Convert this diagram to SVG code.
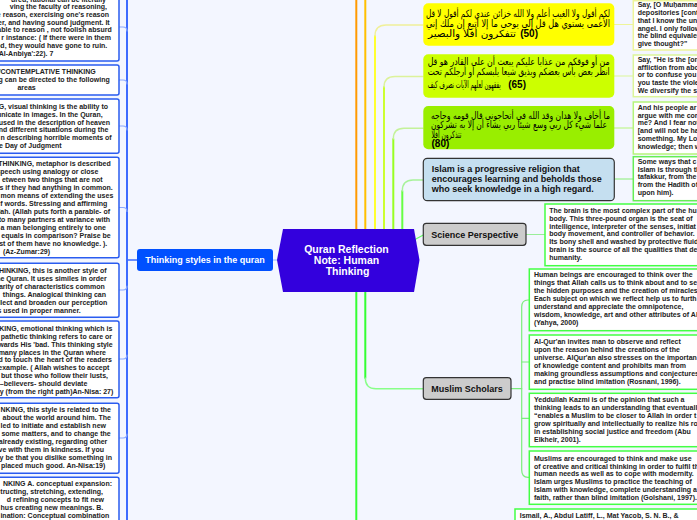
<svg xmlns="http://www.w3.org/2000/svg" width="697" height="520" viewBox="0 0 697 520">
<style>
.lbox{fill:#fff;stroke:#2a5cf0;stroke-width:1.5}
.lt{font-family:"Liberation Sans",Arial,sans-serif;font-size:7px;font-weight:bold;fill:#222;text-anchor:end}
.rt{font-family:"Liberation Sans",Arial,sans-serif;font-size:7px;font-weight:bold;fill:#222}
.nt{font-family:"Liberation Sans",Arial,sans-serif;font-size:9px;font-weight:bold;fill:#111}
.ar{font-family:"DejaVu Sans",sans-serif;font-size:10px;fill:#000}
.num{font-family:"Liberation Sans",Arial,sans-serif;font-size:10px;font-weight:bold;fill:#000}
.gray{fill:#cccccc;stroke:#333;stroke-width:1.2}
.c{fill:none;stroke-linecap:round}
</style>
<rect width="697" height="520" fill="#f3f6ff"/>

<g id="connectors" class="c">
  <path d="M127,-5 V525" stroke="#3d6bff" stroke-width="2"/>
  <path d="M119,27 H123 Q127,27 127,31" stroke="#8aa8ff" stroke-width="1.2"/>
  <path d="M119,80 H123 Q127,80 127,84" stroke="#8aa8ff" stroke-width="1.2"/>
  <path d="M119,126 H123 Q127,126 127,130" stroke="#8aa8ff" stroke-width="1.2"/>
  <path d="M119,207.5 H123 Q127,207.5 127,211.5" stroke="#8aa8ff" stroke-width="1.2"/>
  <path d="M119,290 H123 Q127,290 127,286" stroke="#8aa8ff" stroke-width="1.2"/>
  <path d="M119,359 H123 Q127,359 127,355" stroke="#8aa8ff" stroke-width="1.2"/>
  <path d="M119,438 H123 Q127,438 127,434" stroke="#8aa8ff" stroke-width="1.2"/>
  <path d="M127,260 H137" stroke="#3d6bff" stroke-width="1.5"/>
  <path d="M273,260 H278" stroke="#8fb0ff" stroke-width="1.2"/>

  <path d="M356.3,-5 V230" stroke="#ff9a00" stroke-width="2"/>
  <path d="M365.3,-5 V230" stroke="#ffc000" stroke-width="2"/>
  <path d="M375,230 V36" stroke="#ffff30" stroke-width="2"/>
  <path d="M375,36 Q375,25 386,25 H423" stroke="#f0f09a" stroke-width="1.4"/>
  <path d="M384,230 V87" stroke="#ccff30" stroke-width="2"/>
  <path d="M384,87 Q384,76.5 395,76.5 H423" stroke="#dcf29a" stroke-width="1.4"/>
  <path d="M393.3,230 V139" stroke="#99ff22" stroke-width="2"/>
  <path d="M393.3,139 Q393.3,128.3 404,128.3 H423" stroke="#c4f29a" stroke-width="1.4"/>
  <path d="M402.3,230 V191" stroke="#66ff44" stroke-width="2"/>
  <path d="M402.3,191 Q402.3,180 413,180 H423" stroke="#a8f29a" stroke-width="1.4"/>

  <path d="M356.3,291 V525" stroke="#33ff33" stroke-width="2"/>
  <path d="M365.3,291 V378" stroke="#33ff33" stroke-width="2"/>
  <path d="M365.3,378 Q365.3,388.7 376,388.7 H423" stroke="#88ff88" stroke-width="1.4"/>
  <path d="M415,239.5 L423.3,235" stroke="#66ff66" stroke-width="1.2"/>

  <path d="M614.3,24.5 H633.3" stroke="#eef59a" stroke-width="1.2"/>
  <path d="M614.3,76 H633.3" stroke="#dcf59a" stroke-width="1.2"/>
  <path d="M614.3,128 H633.3" stroke="#b5f57a" stroke-width="1.2"/>
  <path d="M614.3,179 H633.3" stroke="#88ee77" stroke-width="1.2"/>
  <path d="M526,234.5 H545" stroke="#99ee99" stroke-width="1.2"/>
  <path d="M511,388.7 H521.7" stroke="#7ced7c" stroke-width="1.2"/>
  <path d="M529.3,300 H528 Q521.7,300 521.7,307 V470 Q521.7,477.3 528,477.3 H529.3" stroke="#7ced7c" stroke-width="1.2"/>
  <path d="M521.7,362 H529.3" stroke="#7ced7c" stroke-width="1.2"/>
  <path d="M521.7,418.3 H529.3" stroke="#7ced7c" stroke-width="1.2"/>
</g>

<g id="center">
  <polygon points="277,260 283,229 414,229 419.5,260 414,292 283,292" fill="#3300dd"/>
  <g font-family="Liberation Sans, Arial, sans-serif" font-size="10.5" font-weight="bold" fill="#fff" text-anchor="middle">
    <text x="346.5" y="253.3">Quran Reflection</text>
    <text x="346.5" y="264.3">Note: Human</text>
    <text x="347.5" y="275">Thinking</text>
  </g>
</g>

<g id="thinking-styles">
  <rect x="137" y="249" width="136" height="22" rx="3" fill="#0050ff"/>
  <text x="205" y="263.3" font-family="Liberation Sans, Arial, sans-serif" font-size="9" font-weight="bold" fill="#fff" text-anchor="middle">Thinking styles in the quran</text>
</g>

<g id="style-1">
  <rect class="lbox" x="-100" y="-10" width="219" height="71" rx="2"/>
  <text class="lt" x="106" y="1.5">ured, rational can be literally</text>
  <text class="lt" x="107" y="8.7">ving the faculty of reasoning,</text>
  <text class="lt" x="109" y="16.7">e reason, exercising one's reason</text>
  <text class="lt" x="109.7" y="24.7">er, and having sound judgment. It</text>
  <text class="lt" x="111.7" y="32.3">able to reason , not foolish absurd</text>
  <text class="lt" x="111" y="40.3">r instance: ( If there were in them</text>
  <text class="lt" x="107.3" y="48">od, they would have gone to ruin.</text>
  <text class="lt" x="53.3" y="56">'Al-Anbiya':22). 7</text>
</g>
<g id="style-2">
  <rect class="lbox" x="-100" y="65" width="219" height="30" rx="2"/>
  <text class="lt" x="95.7" y="74">/CONTEMPLATIVE THINKING</text>
  <text class="lt" x="109.7" y="82">g can be directed to the following</text>
  <text class="lt" x="35.7" y="90.3">areas</text>
</g>
<g id="style-3">
  <rect class="lbox" x="-100" y="99" width="219" height="54.3" rx="2"/>
  <text class="lt" x="108" y="109">G, visual thinking is the ability to</text>
  <text class="lt" x="102.7" y="116.7">unicate in images. In the Quran,</text>
  <text class="lt" x="110" y="124.5">used in the description of heaven</text>
  <text class="lt" x="108.3" y="132.3">nd different situations during the</text>
  <text class="lt" x="111.7" y="140.3">n describing horrible moments of</text>
  <text class="lt" x="61.7" y="148.3">e Day of Judgment</text>
</g>
<g id="style-4">
  <rect class="lbox" x="-100" y="157.3" width="219" height="100.4" rx="2"/>
  <text class="lt" x="110.7" y="166">THINKING, metaphor is described</text>
  <text class="lt" x="98.3" y="174">speech using analogy or close</text>
  <text class="lt" x="102.7" y="182">etween two things that are not</text>
  <text class="lt" x="112.7" y="190">s if they had anything in common.</text>
  <text class="lt" x="113.3" y="198">mon means of extending the uses</text>
  <text class="lt" x="107.3" y="206">f words. Stressing and affirming</text>
  <text class="lt" x="110" y="214">llah. (Allah puts forth a parable- of</text>
  <text class="lt" x="110" y="222">to many partners at variance with</text>
  <text class="lt" x="106" y="230">a man belonging entirely to one</text>
  <text class="lt" x="110.7" y="238">equals in comparison? Praise be</text>
  <text class="lt" x="107.3" y="246">st of them have no knowledge. ).</text>
  <text class="lt" x="50" y="254">(Az-Zumar:29)</text>
</g>
<g id="style-5">
  <rect class="lbox" x="-100" y="263.3" width="219" height="54" rx="2"/>
  <text class="lt" x="106.7" y="272.7">THINKING, this is another style of</text>
  <text class="lt" x="106.7" y="280.7">he Quran. It uses similes in order</text>
  <text class="lt" x="104.7" y="288.7">arity of characteristics common</text>
  <text class="lt" x="106" y="296.7">things. Analogical thinking can</text>
  <text class="lt" x="107.3" y="304.7">llect and broaden our perception</text>
  <text class="lt" x="80.7" y="312.7">s used in proper manner.</text>
</g>
<g id="style-6">
  <rect class="lbox" x="-100" y="321" width="219" height="76.7" rx="2"/>
  <text class="lt" x="112.3" y="330.7">KING, emotional thinking which is</text>
  <text class="lt" x="112" y="338.7">pathetic thinking refers to care or</text>
  <text class="lt" x="112.7" y="346.7">wards His 'bad. This thinking style</text>
  <text class="lt" x="106" y="354.7">many places in the Quran where</text>
  <text class="lt" x="112" y="362.3">d to touch the heart of the readers</text>
  <text class="lt" x="109.3" y="370.3">example. ( Allah wishes to accept</text>
  <text class="lt" x="108" y="378.3">but those who follow their lusts,</text>
  <text class="lt" x="87.3" y="386.3">u –believers- should deviate</text>
  <text class="lt" x="113.3" y="394.3">y (from the right path)An-Nisa: 27)</text>
</g>
<g id="style-7">
  <rect class="lbox" x="-100" y="403.3" width="219" height="70" rx="2"/>
  <text class="lt" x="111" y="412.3">NKING, this style is related to the</text>
  <text class="lt" x="111" y="420.3">about the world around him. The</text>
  <text class="lt" x="106" y="428.3">led to initiate and establish new</text>
  <text class="lt" x="110.7" y="436.3">some matters, and to change the</text>
  <text class="lt" x="107.3" y="444.3">already existing, regarding other</text>
  <text class="lt" x="104" y="452.3">ve with them in kindness. If you</text>
  <text class="lt" x="112" y="460.3">y be that you dislike something in</text>
  <text class="lt" x="105.3" y="468.3">placed much good. An-Nisa:19)</text>
</g>
<g id="style-8">
  <rect class="lbox" x="-100" y="477.3" width="219" height="60" rx="2"/>
  <text class="lt" x="112" y="486.3">NKING  A. conceptual expansion:</text>
  <text class="lt" x="103" y="494.3">tructing, stretching, extending,</text>
  <text class="lt" x="104" y="502.3">d refining concepts to fit new</text>
  <text class="lt" x="103.3" y="510.3">hus creating new meanings. B.</text>
  <text class="lt" x="109.3" y="518.3">ination: Conceptual combination</text>
</g>

<g id="verse-50">
  <rect x="423.3" y="3.3" width="191" height="42.4" rx="5" fill="#ffff00"/>
  <text class="ar" x="426" y="17.3" textLength="184" lengthAdjust="spacingAndGlyphs">قل&#x200E; لا&#x200E; أقول&#x200E; لكم&#x200E; عندي&#x200E; خزائن&#x200E; الله&#x200E; ولا&#x200E; أعلم&#x200E; الغيب&#x200E; ولا&#x200E; أقول&#x200E; لكم&#x200E;</text>
  <text class="ar" x="426" y="27.3" textLength="184" lengthAdjust="spacingAndGlyphs">إني&#x200E; ملك&#x200E; إن&#x200E; أتبع&#x200E; إلا&#x200E; ما&#x200E; يوحى&#x200E; إلي&#x200E; قل&#x200E; هل&#x200E; يستوي&#x200E; الأعمى&#x200E;</text>
  <text class="ar" x="428" y="37" textLength="88" lengthAdjust="spacingAndGlyphs">والبصير&#x200E; أفلا&#x200E; تتفكرون&#x200E;</text>
  <text class="num" x="538" y="37" text-anchor="end">(50)</text>
</g>
<g id="verse-65">
  <rect x="423.3" y="54.3" width="191" height="43.4" rx="5" fill="#ccff00"/>
  <text class="ar" x="427.7" y="65" textLength="182" lengthAdjust="spacingAndGlyphs">قل&#x200E; هو&#x200E; القادر&#x200E; على&#x200E; أن&#x200E; يبعث&#x200E; عليكم&#x200E; عذابا&#x200E; من&#x200E; فوقكم&#x200E; أو&#x200E; من&#x200E;</text>
  <text class="ar" x="427.7" y="75" textLength="182" lengthAdjust="spacingAndGlyphs">تحت&#x200E; أرجلكم&#x200E; أو&#x200E; يلبسكم&#x200E; شيعا&#x200E; ويذيق&#x200E; بعضكم&#x200E; بأس&#x200E; بعض&#x200E; انظر&#x200E;</text>
  <text class="ar" x="427.7" y="88" textLength="73" lengthAdjust="spacingAndGlyphs">كيف&#x200E; نصرف&#x200E; الآيات&#x200E; لعلهم&#x200E; يفقهون&#x200E;</text>
  <text class="num" x="526" y="88" text-anchor="end">(65)</text>
</g>
<g id="verse-80">
  <rect x="423.3" y="106" width="191" height="43.3" rx="5" fill="#99ee00"/>
  <text class="ar" x="431" y="118.5" textLength="179" lengthAdjust="spacingAndGlyphs">وحاجه&#x200E; قومه&#x200E; قال&#x200E; أتحاجوني&#x200E; في&#x200E; الله&#x200E; وقد&#x200E; هدان&#x200E; ولا&#x200E; أخاف&#x200E; ما&#x200E;</text>
  <text class="ar" x="431" y="128" textLength="176" lengthAdjust="spacingAndGlyphs">تشركون&#x200E; به&#x200E; إلا&#x200E; أن&#x200E; يشاء&#x200E; ربي&#x200E; شيئا&#x200E; وسع&#x200E; ربي&#x200E; كل&#x200E; شيء&#x200E; علما&#x200E;</text>
  <text class="ar" x="431.5" y="137.5" font-size="9" textLength="30" lengthAdjust="spacingAndGlyphs">أفلا&#x200E; تتذكرون&#x200E;</text>
  <text class="num" x="431.5" y="146.5" font-size="9">(80)</text>
</g>
<g id="islam-progressive">
  <rect x="423.3" y="158.3" width="191" height="42.4" rx="4" fill="#c5dff0" stroke="#333" stroke-width="1.2"/>
  <text class="nt" x="431.7" y="171.7">Islam is a progressive religion that</text>
  <text class="nt" x="431.7" y="181.7">encourages learning and beholds those</text>
  <text class="nt" x="431.7" y="191.7">who seek knowledge in a high regard.</text>
</g>
<g id="science-perspective">
  <rect class="gray" x="423.3" y="223.3" width="102.7" height="22" rx="3"/>
  <text class="nt" x="474.7" y="237.6" text-anchor="middle">Science Perspective</text>
</g>
<g id="muslim-scholars">
  <rect class="gray" x="423.3" y="377.7" width="87.7" height="21.6" rx="3"/>
  <text class="nt" x="467" y="391.7" text-anchor="middle">Muslim Scholars</text>
</g>

<g id="note-50">
  <rect x="633.3" y="0.7" width="80" height="49.3" fill="#fff" stroke="#eef59a" stroke-width="1.5"/>
  <text class="rt" x="637.7" y="7.3">Say, [O Muḥamma</text>
  <text class="rt" x="637.7" y="15">depositories [cont</text>
  <text class="rt" x="637.7" y="22.7">that I know the un</text>
  <text class="rt" x="637.7" y="30.7">angel. I only follow</text>
  <text class="rt" x="637.7" y="38.3">the blind equivalen</text>
  <text class="rt" x="637.7" y="46.3">give thought?"</text>
</g>
<g id="note-65">
  <rect x="633.3" y="55" width="80" height="41.7" fill="#fff" stroke="#dcf59a" stroke-width="1.5"/>
  <text class="rt" x="637.7" y="61.8">Say, "He is the [one</text>
  <text class="rt" x="637.7" y="69.5">affliction from abo</text>
  <text class="rt" x="637.7" y="77.2">or to confuse you</text>
  <text class="rt" x="637.7" y="84.8">you taste the viole</text>
  <text class="rt" x="637.7" y="92.5">We diversify the s</text>
</g>
<g id="note-80">
  <rect x="633.3" y="102" width="80" height="52" fill="#fff" stroke="#b5f57a" stroke-width="1.5"/>
  <text class="rt" x="637.7" y="110">And his people ar</text>
  <text class="rt" x="637.7" y="117.6">argue with me cor</text>
  <text class="rt" x="637.7" y="125.4">me? And I fear not</text>
  <text class="rt" x="637.7" y="133.3">[and will not be ha</text>
  <text class="rt" x="637.7" y="141">something. My Lo</text>
  <text class="rt" x="637.7" y="149">knowledge; then w</text>
</g>
<g id="note-islam">
  <rect x="633.3" y="156.7" width="80" height="44" fill="#fff" stroke="#66ee55" stroke-width="1.5"/>
  <text class="rt" x="637.7" y="164">Some ways that c</text>
  <text class="rt" x="637.7" y="171.7">Islam is through th</text>
  <text class="rt" x="637.7" y="179.4">tafakkur, from the</text>
  <text class="rt" x="637.7" y="187.3">from the Hadith of</text>
  <text class="rt" x="637.7" y="195">upon him).</text>
</g>
<g id="note-brain">
  <rect x="545" y="204" width="200" height="61.7" fill="#fff" stroke="#44ff44" stroke-width="1.5"/>
  <text class="rt" x="549.3" y="212.7">The brain is the most complex part of the hu</text>
  <text class="rt" x="549.3" y="220.7">body. This three-pound organ is the seat of</text>
  <text class="rt" x="549.3" y="228.7">intelligence, interpreter of the senses, initiat</text>
  <text class="rt" x="549.3" y="236.3">body movement, and controller of behavior.</text>
  <text class="rt" x="549.3" y="244.3">Its bony shell and washed by protective fluid</text>
  <text class="rt" x="549.3" y="252.3">brain is the source of all the qualities that de</text>
  <text class="rt" x="549.3" y="260">humanity.</text>
</g>
<g id="scholar-yahya">
  <rect x="529.3" y="269" width="200" height="61.7" fill="#fff" stroke="#44ff44" stroke-width="1.5"/>
  <text class="rt" x="534" y="277.3">Human beings are encouraged to think over the</text>
  <text class="rt" x="534" y="285.3">things that Allah calls us to think about and to se</text>
  <text class="rt" x="534" y="293.3">the hidden purposes and the creation of miracles</text>
  <text class="rt" x="534" y="301.3">Each subject on which we reflect help us to furth</text>
  <text class="rt" x="534" y="309.3">understand and appreciate the omnipotence,</text>
  <text class="rt" x="534" y="317">wisdom, knowledge, art and other attributes of Al</text>
  <text class="rt" x="534" y="325">(Yahya, 2000)</text>
</g>
<g id="scholar-rosnani">
  <rect x="529.3" y="335" width="200" height="54.3" fill="#fff" stroke="#44ff44" stroke-width="1.5"/>
  <text class="rt" x="534" y="344">Al-Qur'an invites man to observe and reflect</text>
  <text class="rt" x="534" y="352">upon the reason behind the creations of the</text>
  <text class="rt" x="534" y="360">universe. AlQur'an also stresses on the importan</text>
  <text class="rt" x="534" y="368">of knowledge content and prohibits man from</text>
  <text class="rt" x="534" y="375.7">making groundless assumptions and conjectures</text>
  <text class="rt" x="534" y="383.7">and practise blind imitation (Rosnani, 1996).</text>
</g>
<g id="scholar-kazmi">
  <rect x="529.3" y="393.3" width="200" height="53.4" fill="#fff" stroke="#44ff44" stroke-width="1.5"/>
  <text class="rt" x="534" y="401.7">Yeddullah Kazmi is of the opinion that such a</text>
  <text class="rt" x="534" y="410">thinking leads to an understanding that eventuall</text>
  <text class="rt" x="534" y="418">“enables a Muslim to be closer to Allah in order t</text>
  <text class="rt" x="534" y="426">grow spiritually and intellectually to realize his ro</text>
  <text class="rt" x="534" y="434">in establishing social justice and freedom (Abu</text>
  <text class="rt" x="534" y="441.7">Elkheir, 2001).</text>
</g>
<g id="scholar-golshani">
  <rect x="529.3" y="451" width="200" height="53.3" fill="#fff" stroke="#44ff44" stroke-width="1.5"/>
  <text class="rt" x="534" y="460.7">Muslims are encouraged to think and make use</text>
  <text class="rt" x="534" y="468.7">of creative and critical thinking in order to fulfil th</text>
  <text class="rt" x="534" y="476.3">human needs as well as to cope with modernity.</text>
  <text class="rt" x="534" y="484.3">Islam urges Muslims to practice the teaching of</text>
  <text class="rt" x="534" y="492.3">Islam with knowledge, complete understanding a</text>
  <text class="rt" x="534" y="500">faith, rather than blind imitation (Golshani, 1997).</text>
</g>
<g id="reference">
  <rect x="515" y="509" width="200" height="30" fill="#fff" stroke="#44ff44" stroke-width="1.5"/>
  <text class="rt" x="519.7" y="518.3">Ismail, A., Abdul Latiff, L., Mat Yacob, S. N. B., &amp;</text>
</g>
</svg>
